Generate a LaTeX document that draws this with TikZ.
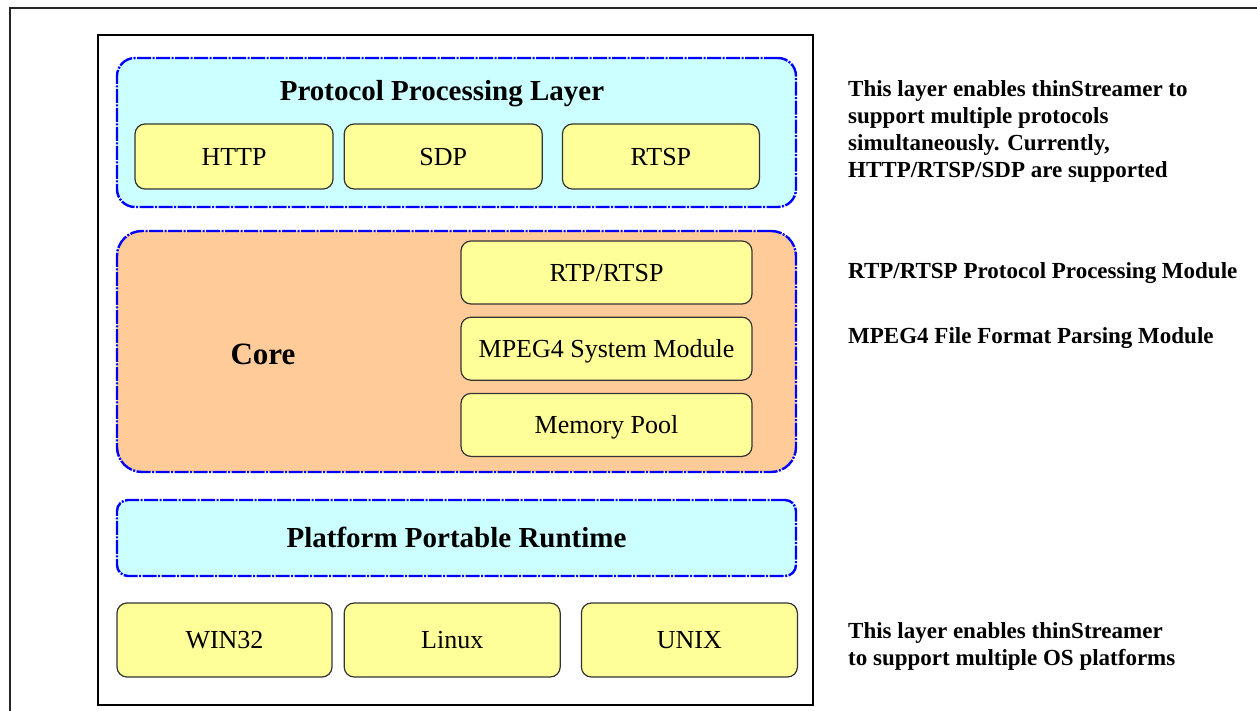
\documentclass[tikz,border=0pt]{standalone}
\usepackage{fontspec}
\setmainfont{Liberation Serif}
\usepackage{tikz}
\usetikzlibrary{positioning}

\definecolor{hellblau}{HTML}{CCFFFF}
\definecolor{kernfarbe}{HTML}{FFCC99}
\definecolor{gelb}{HTML}{FFFF99}

\tikzset{
schicht/.style={rectangle,rounded corners=18pt,draw=blue,line width=2.4pt,
  dash pattern=on 14pt off 1.5pt on 2pt off 1.5pt,minimum width=679pt,inner sep=0pt},
modul/.style={rectangle,rounded corners=10pt,draw=black!80,line width=1.2pt,fill=gelb,
  inner sep=0pt,font=\fontsize{26}{30}\selectfont,text height=17.2pt,text depth=0pt},
titel/.style={font=\fontsize{29}{34}\selectfont\bfseries,text height=19.6pt,text depth=0pt,inner sep=0pt},
notiz/.style={font=\fontsize{23}{27}\selectfont\bfseries,align=left,inner sep=0pt},
}

\begin{document}
\begin{tikzpicture}[%
x={(1pt,0pt)},
y={(0pt,-1pt)},
]

\useasboundingbox (0,0) rectangle (1257,711);

%Rahmen
\draw[line width=2pt,black!85] (1257,8) -- (10,8) -- (10,711);
\draw[line width=2pt] (98,35) rectangle (813,705);

%Schichten
\node[schicht,fill=hellblau,minimum height=149pt](PL) at (456.5,132.5){};
\node[schicht,fill=kernfarbe,rounded corners=25pt,minimum height=241pt](KE) at (456.5,351.5){};
\node[schicht,titel,fill=hellblau,rounded corners=11pt,minimum height=76pt](PR) at (456.5,538){Platform Portable Runtime};
\node[titel](PLt) at (442,90.5){Protocol Processing Layer};
\node[titel,font=\fontsize{31}{36}\selectfont\bfseries,text height=21pt](KEt) at (263,353.7){Core};

%Module
\node[modul,minimum width=198pt,minimum height=65pt](HTTP) at (234,156.5){HTTP};
\node[modul,minimum width=198pt,minimum height=65pt,right=10pt of HTTP](SDP){SDP};
\node[modul,minimum width=197pt,minimum height=65pt,right=19pt of SDP](RTSP){RTSP};

\node[modul,minimum width=291pt,minimum height=63pt](RTP) at (606.5,272.5){RTP/RTSP};
\node[modul,minimum width=291pt,minimum height=63pt,below=12pt of RTP](MP4){MPEG4 System Module};
\node[modul,minimum width=291pt,minimum height=63pt,below=12pt of MP4](MEM){Memory Pool};

\node[modul,minimum width=215pt,minimum height=74pt](WIN) at (224.5,640){WIN32};
\node[modul,minimum width=216pt,minimum height=74pt,right=11pt of WIN](LIN){Linux};
\node[modul,minimum width=216pt,minimum height=74pt,right=20pt of LIN](UNX){UNIX};

%Texte
\node[notiz,anchor=north west](N1) at (848,80){This layer enables thinStreamer to\\support multiple protocols\\simultaneously.  Currently,\\HTTP/RTSP/SDP are supported};
\node[notiz,anchor=base west](N2) at (848,278){RTP/RTSP Protocol Processing Module};
\node[notiz,anchor=base west](N3) at (848,343){MPEG4 File Format Parsing Module};
\node[notiz,anchor=north west](N4) at (848,622.5){This layer enables thinStreamer\\to support multiple OS platforms};

\end{tikzpicture}
\end{document}
